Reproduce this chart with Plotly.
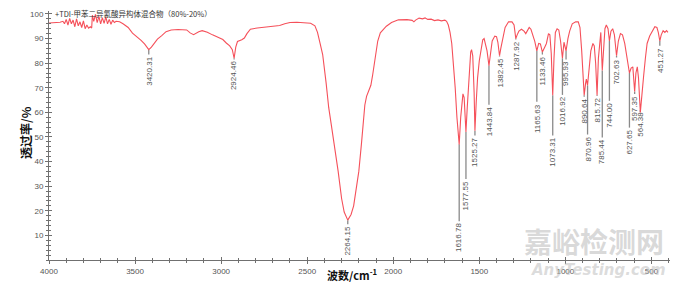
import numpy as np
import plotly.graph_objects as go

# ---- spectrum (wavenumber cm-1, transmittance %) ----
wavenumber = [4000, 3965, 3936, 3919, 3910, 3900, 3890, 3880, 3870, 3860, 3850, 3840, 3830, 3820,
              3810, 3800, 3790, 3780, 3770, 3760, 3752, 3748, 3740, 3730, 3720, 3710, 3700, 3690,
              3680, 3670, 3660, 3650, 3640, 3630, 3620, 3610, 3590, 3570, 3540, 3515, 3490, 3465,
              3445, 3420.31, 3405, 3390, 3370, 3345, 3320, 3290, 3250, 3200, 3180, 3160, 3130,
              3110, 3080, 3050, 3020, 2990, 2970, 2950, 2935, 2924.46, 2915, 2905, 2880, 2865,
              2850, 2830, 2790, 2740, 2700, 2660, 2630, 2600, 2560, 2520, 2480, 2455, 2440, 2425,
              2410, 2390, 2375, 2360, 2340, 2320, 2300, 2285, 2264.15, 2245, 2230, 2215, 2200,
              2185, 2175, 2165, 2155, 2145, 2130, 2120, 2105, 2090, 2075, 2060, 2040, 2010, 1970,
              1920, 1890, 1880, 1870, 1850, 1830, 1815, 1800, 1780, 1760, 1740, 1720, 1700, 1690,
              1680, 1670, 1660, 1650, 1640, 1630, 1616.78, 1608, 1600, 1595, 1588, 1577.55, 1570,
              1560, 1550, 1545, 1538, 1530, 1525.27, 1518, 1510, 1500, 1490, 1480, 1472, 1455,
              1443.84, 1435, 1425, 1410, 1400, 1392, 1382.45, 1375, 1365, 1350, 1330, 1310, 1298,
              1287.92, 1280, 1270, 1255, 1240, 1230, 1220, 1210, 1200, 1190, 1178, 1165.63, 1155,
              1145, 1133.46, 1120, 1110, 1098, 1090, 1082, 1073.31, 1066, 1058, 1048, 1038, 1028,
              1016.92, 1008, 995.93, 985, 975, 960, 940, 925, 915, 905, 890.64, 882, 878, 870.96,
              862, 852, 840, 832, 824, 815.72, 808, 800, 794, 785.44, 778, 770, 762, 752, 744.00,
              735, 725, 715, 702.63, 692, 680, 668, 655, 642, 627.65, 618, 608, 597.35, 590, 582,
              575, 564.38, 555, 545, 535, 525, 510, 495, 480, 468, 460, 451.27, 443, 432, 422,
              412, 404]
transmittance = [96.3, 96.3, 96.6, 97.0, 96.0, 97.8, 95.5, 98.2, 96.0, 97.5, 94.8, 98.0, 95.2, 96.8,
                 94.5, 97.2, 94.0, 95.5, 94.2, 94.8, 94.3, 99.5, 97.0, 99.8, 96.5, 99.0, 96.0, 98.5,
                 96.2, 98.8, 96.0, 97.8, 95.8, 97.5, 96.5, 97.0, 96.8, 96.0, 94.5, 92.2, 90.8, 89.3,
                 87.8, 85.5, 86.5, 88.0, 89.8, 91.2, 92.8, 93.5, 93.7, 93.5, 92.3, 91.6, 92.8,
                 93.2, 92.6, 91.5, 90.6, 89.6, 88.2, 87.0, 85.5, 82.0, 86.5, 88.8, 89.5, 90.2,
                 92.0, 93.8, 94.3, 94.6, 95.0, 95.3, 96.0, 96.5, 96.6, 96.4, 96.2, 95.2, 92.5, 88.0,
                 83.5, 72.0, 62.0, 55.0, 46.0, 36.0, 25.0, 19.5, 16.2, 18.5, 22.0, 28.5, 36.0,
                 47.0, 56.0, 63.0, 66.5, 68.5, 71.0, 75.0, 82.0, 89.0, 92.3, 93.3, 95.0, 96.5, 97.6,
                 97.7, 97.4, 96.8, 97.5, 98.3, 98.0, 98.4, 97.8, 97.9, 97.3, 97.6, 97.2, 97.5, 97.0,
                 95.5, 92.5, 88.0, 80.0, 70.0, 58.0, 47.0, 58.0, 66.0, 67.5, 66.0, 52.0, 62.0,
                 76.0, 84.5, 85.5, 83.0, 68.0, 52.5, 64.0, 74.0, 81.0, 86.0, 89.5, 90.0, 85.0,
                 79.0, 84.0, 89.0, 91.0, 90.8, 88.5, 83.0, 86.0, 89.0, 94.5, 96.8, 96.8, 95.5,
                 90.0, 91.5, 93.0, 93.8, 93.0, 92.0, 93.5, 94.5, 93.8, 92.0, 89.0, 85.0, 88.0,
                 87.8, 84.5, 86.5, 88.0, 92.0, 91.5, 84.0, 67.0, 82.0, 92.5, 94.0, 93.5, 89.0,
                 82.0, 88.5, 85.0, 90.0, 93.0, 96.0, 96.8, 96.8, 94.5, 85.0, 67.0, 72.0, 73.5, 71.0,
                 78.0, 85.0, 88.0, 87.0, 80.0, 67.0, 82.0, 90.0, 92.5, 77.0, 86.0, 94.0, 95.5, 94.0, 89.0,
                 93.0, 94.0, 91.5, 83.0, 89.0, 92.0, 91.5, 88.0, 82.0, 76.0, 78.0, 78.5, 68.5, 76.0, 78.5,
                 74.0, 60.0, 66.0, 75.0, 82.0, 88.0, 91.0, 93.0, 94.8, 94.5, 92.5, 89.0, 91.5, 93.2, 92.5,
                 93.2, 92.5]

# ---- labelled peaks ----
peak_wn = [3420.31, 2924.46, 2264.15, 1616.78, 1577.55, 1525.27, 1443.84, 1382.45, 1287.92,
           1165.63, 1133.46, 1073.31, 1016.92, 995.93, 890.64, 870.96, 815.72, 785.44, 744.00,
           702.63, 627.65, 597.35, 564.38, 451.27]
peak_text = ["3420.31", "2924.46", "2264.15", "1616.78", "1577.55", "1525.27", "1443.84",
             "1382.45", "1287.92", "1165.63", "1133.46", "1073.31", "1016.92", "995.93",
             "890.64", "870.96", "815.72", "785.44", "744.00", "702.63", "627.65", "597.35",
             "564.38", "451.27"]
# where each rotated label starts (transmittance level of its top end) - layout only
label_top = [83.1, 81.1, 14.1, 15.3, 32.5, 50.2, 62.7, 82.3, 89.2, 63.9, 83.1, 50.2, 66.7, 81.1,
             65.9, 50.6, 66.3, 49.4, 64.3, 81.9, 53.4, 67.1, 60.6, 86.7]

title_text = "+TDI-甲苯二异氰酸异构体混合物（80%-20%）"
y_title = "透过率/%"
x_title = "波数/cm<sup>-1</sup>"
x_ticks = [4000, 3500, 3000, 2500, 2000, 1500, 1000, 500]
y_ticks = [10, 20, 30, 40, 50, 60, 70, 80, 90, 100]

wn_arr = np.array(wavenumber)
t_arr = np.array(transmittance)
peak_t = np.interp(peak_wn, wn_arr[::-1], t_arr[::-1])

fig = go.Figure()

# leader lines
lx, ly = [], []
for w, pt, lt in zip(peak_wn, peak_t, label_top):
    lx += [w, w, None]
    ly += [pt, lt + 0.4, None]
fig.add_trace(go.Scatter(x=lx, y=ly, mode="lines", line=dict(color="#8a8a8a", width=1.3),
                         hoverinfo="skip", showlegend=False))

fig.add_trace(go.Scatter(x=wavenumber, y=transmittance, mode="lines",
                         line=dict(color="rgb(245,80,90)", width=1.1), showlegend=False))

# invisible trace for overlay axes (inside ticks)
fig.add_trace(go.Scatter(x=[4000], y=[0], xaxis="x2", yaxis="y2", mode="markers",
                         marker=dict(opacity=0), hoverinfo="skip", showlegend=False))

tickfont = dict(family="Liberation Sans, Arial, sans-serif", size=8, color="#555555")
axcol = "#707070"
XR = [4000, 392]
YR = [0, 101.2]
fig.update_layout(
    width=680, height=286,
    margin=dict(l=49, r=10, t=10, b=24),
    paper_bgcolor="white", plot_bgcolor="white",
    xaxis=dict(range=XR, tickvals=x_ticks, ticks="outside", ticklen=3, tickcolor=axcol,
               showline=True, linecolor=axcol, linewidth=1, showgrid=False, zeroline=False,
               tickfont=tickfont, minor=dict(dtick=100, tick0=0, ticks="outside", ticklen=2,
                                             tickcolor=axcol)),
    yaxis=dict(range=YR, tickvals=y_ticks, ticks="outside", ticklen=3, tickcolor=axcol,
               showline=True, linecolor=axcol, linewidth=1, showgrid=False, zeroline=False,
               tickfont=tickfont, minor=dict(dtick=2, tick0=0, ticks="outside", ticklen=2,
                                             tickcolor=axcol)),
    xaxis2=dict(range=XR, overlaying="x", tickvals=x_ticks, ticks="inside", ticklen=3,
                tickcolor=axcol, showticklabels=False, showgrid=False, zeroline=False,
                minor=dict(dtick=100, tick0=0, ticks="inside", ticklen=2, tickcolor=axcol)),
    yaxis2=dict(range=YR, overlaying="y", tickvals=y_ticks, ticks="inside", ticklen=3,
                tickcolor=axcol, showticklabels=False, showgrid=False, zeroline=False,
                minor=dict(dtick=2, tick0=0, ticks="inside", ticklen=2, tickcolor=axcol)),
)

annotations = []
for w, lt, txt in zip(peak_wn, label_top, peak_text):
    annotations.append(dict(x=w, y=lt, xref="x", yref="y", text=txt, showarrow=False,
                            textangle=-90, xanchor="center", yanchor="top",
                            font=dict(family="Liberation Sans, Arial, sans-serif", size=8,
                                      color="#555555"), borderpad=0))
annotations.append(dict(x=0, y=100, xref="paper", yref="y", text=title_text, showarrow=False,
                        xanchor="left", yanchor="middle", xshift=4,
                        font=dict(family="Noto Sans CJK SC", size=7.5, color="#333333")))
annotations.append(dict(x=0, y=0.512, xref="paper", yref="paper", text="<b>" + y_title + "</b>",
                        showarrow=False, textangle=-90, xshift=-34,
                        font=dict(family="Noto Sans CJK SC", size=12, color="#111111")))
annotations.append(dict(x=0.488, y=-0.06, xref="paper", yref="paper", text="<b>" + x_title + "</b>",
                        showarrow=False, yanchor="middle",
                        font=dict(family="Noto Sans CJK SC", size=11, color="#111111")))
# watermark
annotations.append(dict(x=1, y=-0.012, xref="paper", yref="paper", text="<b>嘉峪检测网</b>",
                        showarrow=False, xanchor="right", yanchor="bottom", xshift=-4,
                        font=dict(family="Noto Sans CJK SC", size=28, color="rgba(185,185,185,0.55)")))
annotations.append(dict(x=1, y=-0.04, xref="paper", yref="paper", text="<i><b>AnyTesting.com</b></i>",
                        showarrow=False, xanchor="right", yanchor="middle", xshift=-2,
                        font=dict(family="DejaVu Sans", size=15, color="rgba(190,190,190,0.55)")))
fig.update_layout(annotations=annotations)

fig.write_html("out.html")
